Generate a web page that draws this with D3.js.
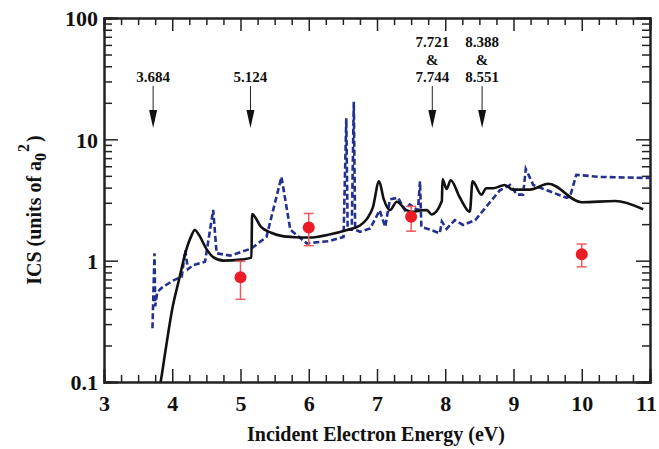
<!DOCTYPE html>
<html>
<head>
<meta charset="utf-8">
<script src="https://cdn.jsdelivr.net/npm/d3@7"></script>
<style>
  body { margin: 0; background: #fff; }
  svg text { font-family: "Liberation Serif", Tinos, "Times New Roman", Times, "Noto Serif", "DejaVu Serif", serif !important; font-weight: bold; }
</style>
</head>
<body>
<div id="chart"></div>
<script>
// R-matrix (solid) and second calculation (dashed), energy in eV, ICS in a0^2
var solidE = [3.78, 3.83, 3.9, 4.0, 4.1, 4.2, 4.28, 4.33, 4.4, 4.5, 4.6, 4.75, 5.0, 5.16, 5.17, 5.3, 5.45, 5.6, 5.8, 6.0, 6.3, 6.56, 6.75, 6.85, 6.94, 7.03, 7.1, 7.19, 7.29, 7.43, 7.53, 7.65, 7.73, 7.8, 7.95, 7.96, 8.02, 8.08, 8.21, 8.36, 8.4, 8.53, 8.6, 8.7, 8.87, 8.99, 9.24, 9.51, 10.0, 10.49, 10.9];
var solidV = [0.07, 0.1, 0.18, 0.4, 0.7, 1.2, 1.6, 1.79, 1.6, 1.25, 1.07, 1.0, 1.02, 1.06, 2.42, 1.9, 1.7, 1.6, 1.56, 1.55, 1.64, 1.79, 1.95, 2.2, 2.75, 4.5, 3.2, 2.61, 3.06, 2.61, 2.53, 2.6, 2.61, 2.4, 3.1, 4.68, 3.9, 4.6, 3.35, 2.53, 4.5, 3.5, 3.95, 3.95, 4.2, 3.85, 3.85, 4.3, 3.03, 3.1, 2.65];

var dashE = [3.71, 3.74, 3.75, 3.78, 3.85, 4.0, 4.14, 4.19, 4.23, 4.31, 4.48, 4.6, 4.65, 4.85, 5.16, 5.38, 5.6, 5.73, 5.97, 6.3, 6.51, 6.55, 6.57, 6.63, 6.66, 6.68, 6.75, 6.9, 7.04, 7.12, 7.19, 7.31, 7.41, 7.48, 7.6, 7.63, 7.65, 7.78, 7.92, 7.95, 8.02, 8.14, 8.26, 8.44, 8.6, 8.8, 8.95, 9.05, 9.14, 9.18, 9.29, 9.49, 9.78, 9.83, 9.92, 10.27, 11.0];
var dashV = [0.277, 1.15, 0.42, 0.55, 0.6, 0.68, 0.74, 1.22, 0.85, 0.92, 0.98, 2.62, 1.15, 1.1, 1.26, 1.57, 4.9, 1.8, 1.39, 1.45, 1.57, 14.9, 1.8, 1.8, 20.4, 1.8, 1.73, 1.84, 2.6, 1.9, 3.2, 3.3, 2.6, 2.9, 2.6, 4.5, 1.9, 1.8, 1.68, 2.1, 1.83, 2.16, 1.97, 2.16, 2.78, 3.8, 4.2, 3.5, 3.5, 5.7, 4.2, 3.8, 3.3, 3.4, 5.1, 4.9, 4.8];

// experiment with error bars
var expE = [5.0, 6.0, 7.5, 10.0];
var expV = [0.73, 1.88, 2.3, 1.13];
var expLo = [0.48, 1.33, 1.75, 0.89];
var expHi = [0.99, 2.45, 2.8, 1.37];

// threshold markers
var markE = [3.72, 5.146, 7.81, 8.54];
var markLabels = [["3.684"], ["5.124"], ["7.721", "&", "7.744"], ["8.388", "&", "8.551"]];

var xTicks = [3, 4, 5, 6, 7, 8, 9, 10, 11];
var yTicks = [0.1, 1, 10, 100];

var margin = {top: 18, right: 9, bottom: 67, left: 104},
    width = 659 - margin.left - margin.right,
    height = 449 - margin.top - margin.bottom;

var x = d3.scaleLinear().domain([3, 11]).range([0, width]);
var y = d3.scaleLog().domain([0.1, 100]).range([height, 0]);

var svg = d3.select("#chart").append("svg")
    .attr("width", 659)
    .attr("height", 449)
  .append("g")
    .attr("transform", "translate(" + margin.left + "," + margin.top + ")");

svg.append("defs").append("clipPath").attr("id", "clip")
  .append("rect").attr("width", width).attr("height", height);

// minor ticks
var xMinor = d3.range(3, 11.001, 0.25).filter(function(d) { return Math.abs(d - Math.round(d)) > 0.01; });
var yMinor = [];
[0.1, 1, 10].forEach(function(b) { for (var k = 2; k <= 9; k++) yMinor.push(b * k); });

function noLabel() { return ""; }

// bottom axis
svg.append("g").attr("transform", "translate(0," + height + ")")
    .call(d3.axisBottom(x).tickValues(xMinor).tickSize(-7).tickFormat(noLabel));
var xAx = svg.append("g").attr("transform", "translate(0," + height + ")")
    .call(d3.axisBottom(x).tickValues(xTicks).tickSize(-13).tickFormat(d3.format("d")));
xAx.selectAll("text").attr("dy", null).attr("y", 29).style("font-size", "22px").attr("fill", "#111")
    .attr("dx", function(d) { return d === 11 ? -4 : 0; });

// top axis
svg.append("g")
    .call(d3.axisTop(x).tickValues(xMinor).tickSize(-7).tickFormat(noLabel));
svg.append("g")
    .call(d3.axisTop(x).tickValues(xTicks).tickSize(-13).tickFormat(noLabel));

// left axis
svg.append("g")
    .call(d3.axisLeft(y).tickValues(yMinor).tickSize(-8).tickFormat(noLabel));
var yAx = svg.append("g")
    .call(d3.axisLeft(y).tickValues(yTicks).tickSize(-14).tickFormat(function(d) { return d < 1 ? "0.1" : d3.format("d")(d); }));
yAx.selectAll("text").attr("x", -6).attr("dy", "0.35em").style("font-size", "22px").attr("fill", "#111");

// right axis
svg.append("g").attr("transform", "translate(" + width + ",0)")
    .call(d3.axisRight(y).tickValues(yMinor).tickSize(-8).tickFormat(noLabel));
svg.append("g").attr("transform", "translate(" + width + ",0)")
    .call(d3.axisRight(y).tickValues(yTicks).tickSize(-14).tickFormat(noLabel));

svg.selectAll(".domain").attr("stroke", "#222").attr("stroke-width", 2);
svg.selectAll(".tick line").attr("stroke", "#222").attr("stroke-width", 1.5);

// curves
var line = d3.line()
    .x(function(d) { return x(d[0]); })
    .y(function(d) { return y(d[1]); });

var plot = svg.append("g").attr("clip-path", "url(#clip)");

plot.append("path")
    .datum(dashE.map(function(e, i) { return [e, dashV[i]]; }))
    .attr("fill", "none")
    .attr("stroke", "#23308f")
    .attr("stroke-width", 2.6)
    .attr("stroke-dasharray", "6,3")
    .attr("d", line);

plot.append("path")
    .datum(solidE.map(function(e, i) { return [e, solidV[i]]; }))
    .attr("fill", "none")
    .attr("stroke", "#111")
    .attr("stroke-width", 2.6)
    .attr("stroke-linejoin", "round")
    .attr("d", line.curve(d3.curveMonotoneX));

// experimental points
var exp = svg.append("g").selectAll("g")
    .data(expE.map(function(e, i) { return {e: e, v: expV[i], lo: expLo[i], hi: expHi[i]}; }))
  .enter().append("g");

exp.append("line")
    .attr("x1", function(d) { return x(d.e); })
    .attr("x2", function(d) { return x(d.e); })
    .attr("y1", function(d) { return y(d.lo); })
    .attr("y2", function(d) { return y(d.hi); })
    .attr("stroke", "#ee5a60").attr("stroke-width", 1.5);
["lo", "hi"].forEach(function(k) {
  exp.append("line")
      .attr("x1", function(d) { return x(d.e) - 5; })
      .attr("x2", function(d) { return x(d.e) + 5; })
      .attr("y1", function(d) { return y(d[k]); })
      .attr("y2", function(d) { return y(d[k]); })
      .attr("stroke", "#ee5a60").attr("stroke-width", 1.5);
});
exp.append("circle")
    .attr("cx", function(d) { return x(d.e); })
    .attr("cy", function(d) { return y(d.v); })
    .attr("r", 6)
    .attr("fill", "#ec1c24");

// threshold arrows
var marks = svg.append("g").selectAll("g")
    .data(markE.map(function(e, i) { return {e: e, lab: markLabels[i]}; }))
  .enter().append("g")
    .attr("transform", function(d) { return "translate(" + x(d.e) + ",0)"; });

marks.append("line")
    .attr("y1", 68).attr("y2", 95)
    .attr("stroke", "#222").attr("stroke-width", 1);
marks.append("path")
    .attr("d", "M-4,92L4,92L0,110Z")
    .attr("fill", "#111");
marks.each(function(d) {
  var g = d3.select(this);
  var n = d.lab.length;
  d.lab.forEach(function(t, i) {
    g.append("text")
        .attr("y", 64 - (n - 1 - i) * 17.5)
        .attr("text-anchor", "middle")
        .style("font-size", "15px")
        .attr("fill", "#111")
        .text(t);
  });
});

// axis titles
svg.append("text")
    .attr("x", width / 2 - 1)
    .attr("y", height + 59)
    .attr("text-anchor", "middle")
    .style("font-size", "20px")
    .attr("fill", "#111")
    .text("Incident Electron Energy (eV)");

var yt = svg.append("text")
    .attr("transform", "translate(" + (-63) + "," + (height / 2 + 10) + ") rotate(-90)")
    .attr("text-anchor", "middle")
    .style("font-size", "20px")
    .attr("fill", "#111");
yt.append("tspan").text("ICS (units of a");
yt.append("tspan").attr("dy", 5).style("font-size", "16px").text("0");
yt.append("tspan").attr("dy", -17).attr("dx", 1).style("font-size", "16px").text("2");
yt.append("tspan").attr("dy", 12).attr("dx", 2).text(")");
</script>
</body>
</html>
